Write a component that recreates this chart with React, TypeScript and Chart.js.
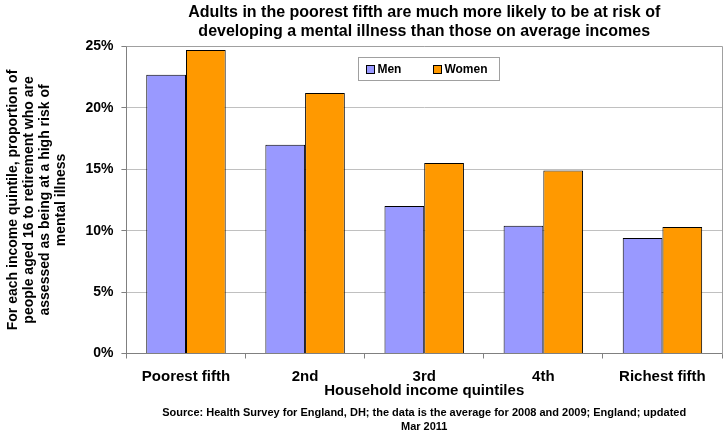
import React, { useEffect, useRef } from "react";
import { Chart, registerables } from "chart.js";

Chart.register(...registerables);

const categories = ["Poorest fifth", "2nd", "3rd", "4th", "Richest fifth"];
const menValues = [22.7, 17.0, 12.0, 10.4, 9.4];
const womenValues = [24.7, 21.2, 15.5, 14.9, 10.3];
const seriesLabels = ["Men", "Women"];
const titleLines = [
  "Adults in the poorest fifth are much more likely to be at risk of",
  "developing a mental illness than those on average incomes",
];
const yTitleLines = [
  "For each income quintile, proportion of",
  "people aged 16 to retirement who are",
  "assessed as being at a high risk of",
  "mental illness",
];
const xTitle = "Household income quintiles";
const sourceLines = [
  "Source: Health Survey for England, DH; the data is the average for 2008 and 2009; England; updated",
  "Mar 2011",
];

const FONT = "'Liberation Sans', Arial, sans-serif";

const frameAndLegend = {
  id: "frameAndLegend",
  afterDatasetsDraw(chart: any) {
    const { ctx, chartArea } = chart;
    ctx.save();
    ctx.strokeStyle = "#a0a0a0";
    ctx.lineWidth = 1;
    ctx.beginPath();
    ctx.moveTo(Math.round(chartArea.left) + 0.5, Math.round(chartArea.top) + 0.5);
    ctx.lineTo(Math.round(chartArea.right) + 0.5, Math.round(chartArea.top) + 0.5);
    ctx.lineTo(Math.round(chartArea.right) + 0.5, Math.round(chartArea.bottom) + 0.5);
    ctx.stroke();

    const bx = chartArea.left + 232;
    const by = chartArea.top + 11;
    const bw = 141;
    const bh = 23;
    ctx.fillStyle = "#ffffff";
    ctx.fillRect(bx, by, bw, bh);
    ctx.strokeStyle = "#a0a0a0";
    ctx.strokeRect(Math.round(bx) + 0.5, Math.round(by) + 0.5, bw, bh);
    ctx.font = `bold 12px ${FONT}`;
    ctx.textBaseline = "middle";
    const items = chart.data.datasets;
    const offsets = [8, 75];
    items.forEach((ds: any, i: number) => {
      const x = bx + offsets[i];
      const y = by + bh / 2;
      ctx.fillStyle = ds.backgroundColor;
      ctx.fillRect(Math.round(x) + 0.5, Math.round(y - 4) + 0.5, 8, 8);
      ctx.strokeStyle = "#000";
      ctx.strokeRect(Math.round(x) + 0.5, Math.round(y - 4) + 0.5, 8, 8);
      ctx.fillStyle = "#000";
      ctx.textAlign = "left";
      ctx.fillText(ds.label, x + 11, y + 1);
    });
    ctx.restore();
  },
};

export default function App() {
  const ref = useRef<HTMLCanvasElement | null>(null);
  useEffect(() => {
    if (!ref.current) return;
    const chart = new Chart(ref.current, {
      type: "bar",
      data: {
        labels: categories,
        datasets: [
          {
            label: seriesLabels[0],
            data: menValues,
            backgroundColor: "#9999FF",
            borderColor: "#000000",
            borderWidth: 1,
          },
          {
            label: seriesLabels[1],
            data: womenValues,
            backgroundColor: "#FF9900",
            borderColor: "#000000",
            borderWidth: 1,
          },
        ],
      },
      options: {
        animation: false,
        responsive: false,
        maintainAspectRatio: false,
        devicePixelRatio: 1,
        layout: { padding: { left: 5, right: 3, top: 0, bottom: 0 } },
        datasets: { bar: { categoryPercentage: 0.667, barPercentage: 1.0 } },
        plugins: {
          legend: { display: false },
          tooltip: { enabled: false },
          title: {
            display: true,
            text: titleLines,
            fullSize: false,
            color: "#000",
            font: { family: FONT, size: 16, weight: "bold", lineHeight: 1.2 },
            padding: { top: 3, bottom: 5 },
          },
          subtitle: {
            display: true,
            position: "bottom",
            text: sourceLines,
            fullSize: false,
            color: "#000",
            font: { family: FONT, size: 11, weight: "bold", lineHeight: 1.25 },
            padding: { top: 7, bottom: 8 },
          },
        },
        scales: {
          x: {
            grid: {
              display: true,
              drawOnChartArea: false,
              drawTicks: true,
              tickLength: 5,
              offset: true,
              color: "#808080",
            },
            border: { color: "#808080" },
            ticks: {
              color: "#000",
              font: { family: FONT, size: 15, weight: "bold" },
              padding: 9,
              maxRotation: 0,
            },
            title: {
              display: true,
              text: xTitle,
              color: "#000",
              font: { family: FONT, size: 15, weight: "bold" },
              padding: { top: -13, bottom: 0 },
            },
          },
          y: {
            min: 0,
            max: 25,
            ticks: {
              stepSize: 5,
              color: "#000",
              font: { family: FONT, size: 14, weight: "bold" },
              padding: 8,
              callback: (v: any) => v + "%",
            },
            grid: {
              color: "#c0c0c0",
              tickColor: "#808080",
              tickLength: 5,
            },
            border: { color: "#808080" },
            title: {
              display: true,
              text: yTitleLines,
              color: "#000",
              font: { family: FONT, size: 14, weight: "bold", lineHeight: 1.15 },
              padding: { top: 0, bottom: 8 },
            },
          },
        },
      },
      plugins: [frameAndLegend],
    });
    return () => chart.destroy();
  }, []);
  return (
    <div style={{ position: "fixed", left: 0, top: 0, width: 725, height: 442, background: "#fff" }}>
      <canvas ref={ref} width={725} height={442} style={{ width: 725, height: 442, display: "block" }} />
    </div>
  );
}
